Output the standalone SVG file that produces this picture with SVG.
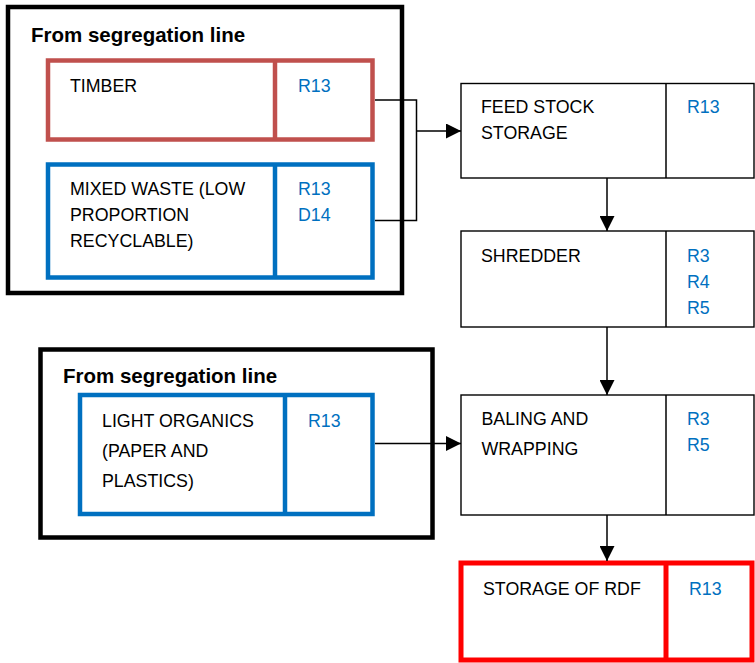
<svg xmlns="http://www.w3.org/2000/svg" width="755" height="663" viewBox="0 0 755 663">
<defs>
<style>
.t{font-family:"Liberation Sans",Arial,sans-serif;font-size:17.8px;fill:#000}
.c{font-family:"Liberation Sans",Arial,sans-serif;font-size:17.8px;fill:#0070C0}
.h{font-family:"Liberation Sans",Arial,sans-serif;font-size:20.5px;font-weight:bold;fill:#000}
.outer{fill:none;stroke:#000;stroke-width:4.5}
.red{fill:#fff;stroke:#C0504D;stroke-width:4.5}
.blue{fill:#fff;stroke:#0070C0;stroke-width:4.5}
.proc{fill:#fff;stroke:#000;stroke-width:1.4}
.rdf{fill:#fff;stroke:#FF0000;stroke-width:5}
.ln{fill:none;stroke:#000;stroke-width:1.5}
</style>
<marker id="ah" viewBox="0 0 10 10" refX="10" refY="5" markerWidth="15" markerHeight="15" markerUnits="userSpaceOnUse" orient="auto">
<path d="M0,0 L10,5 L0,10 Z" fill="#000"/>
</marker>
</defs>

<g id="group1">
<rect class="outer" x="8" y="7" width="394" height="286"/>
<text class="h" x="31" y="42">From segregation line</text>
</g>

<g id="timber">
<rect class="red" x="48" y="60.5" width="324.5" height="79"/>
<line x1="275" y1="60.5" x2="275" y2="139.5" stroke="#C0504D" stroke-width="4.5"/>
<text class="t" x="70" y="92">TIMBER</text>
<text class="c" x="298" y="92">R13</text>
</g>

<g id="mixed">
<rect class="blue" x="48" y="164.5" width="324.5" height="113"/>
<line x1="275" y1="164.5" x2="275" y2="277.5" stroke="#0070C0" stroke-width="4.5"/>
<text class="t" x="70" y="195">MIXED WASTE (LOW</text>
<text class="t" x="70" y="221">PROPORTION</text>
<text class="t" x="70" y="247">RECYCLABLE)</text>
<text class="c" x="298" y="195">R13</text>
<text class="c" x="298" y="221">D14</text>
</g>

<g id="group2">
<rect class="outer" x="40.5" y="349.5" width="392" height="188"/>
<text class="h" x="63" y="383">From segregation line</text>
</g>

<g id="organics">
<rect class="blue" x="80" y="395" width="292.5" height="119"/>
<line x1="285" y1="395" x2="285" y2="514" stroke="#0070C0" stroke-width="4.5"/>
<text class="t" x="102" y="427">LIGHT ORGANICS</text>
<text class="t" x="102" y="457">(PAPER AND</text>
<text class="t" x="102" y="487">PLASTICS)</text>
<text class="c" x="308" y="427">R13</text>
</g>

<g id="feedstock">
<rect class="proc" x="461" y="83.5" width="293" height="94.5"/>
<line class="ln" x1="666" y1="83.5" x2="666" y2="178" stroke-width="1.4"/>
<text class="t" x="481" y="113">FEED STOCK</text>
<text class="t" x="481" y="139">STORAGE</text>
<text class="c" x="687" y="113">R13</text>
</g>

<g id="shredder">
<rect class="proc" x="461" y="231" width="293" height="96"/>
<line class="ln" x1="666" y1="231" x2="666" y2="327" stroke-width="1.4"/>
<text class="t" x="481" y="262">SHREDDER</text>
<text class="c" x="687" y="262">R3</text>
<text class="c" x="687" y="287.5">R4</text>
<text class="c" x="687" y="313.5">R5</text>
</g>

<g id="baling">
<rect class="proc" x="461" y="395" width="293" height="120"/>
<line class="ln" x1="666" y1="395" x2="666" y2="515" stroke-width="1.4"/>
<text class="t" x="481.5" y="425">BALING AND</text>
<text class="t" x="481.5" y="455">WRAPPING</text>
<text class="c" x="687" y="425">R3</text>
<text class="c" x="687" y="451">R5</text>
</g>

<g id="rdf">
<rect class="rdf" x="461" y="563" width="291" height="97"/>
<line x1="666" y1="563" x2="666" y2="660" stroke="#FF0000" stroke-width="5"/>
<text class="t" x="483" y="595">STORAGE OF RDF</text>
<text class="c" x="689" y="595">R13</text>
</g>

<g id="connectors">
<polyline class="ln" points="375,100 416.5,100 416.5,220.5 375,220.5"/>
<line class="ln" x1="416.5" y1="131" x2="461" y2="131" marker-end="url(#ah)"/>
<line class="ln" x1="607" y1="178" x2="607" y2="231" marker-end="url(#ah)"/>
<line class="ln" x1="607" y1="327" x2="607" y2="395" marker-end="url(#ah)"/>
<line class="ln" x1="375" y1="443.5" x2="461" y2="443.5" marker-end="url(#ah)"/>
<line class="ln" x1="607" y1="515" x2="607" y2="561" marker-end="url(#ah)"/>
</g>
</svg>
